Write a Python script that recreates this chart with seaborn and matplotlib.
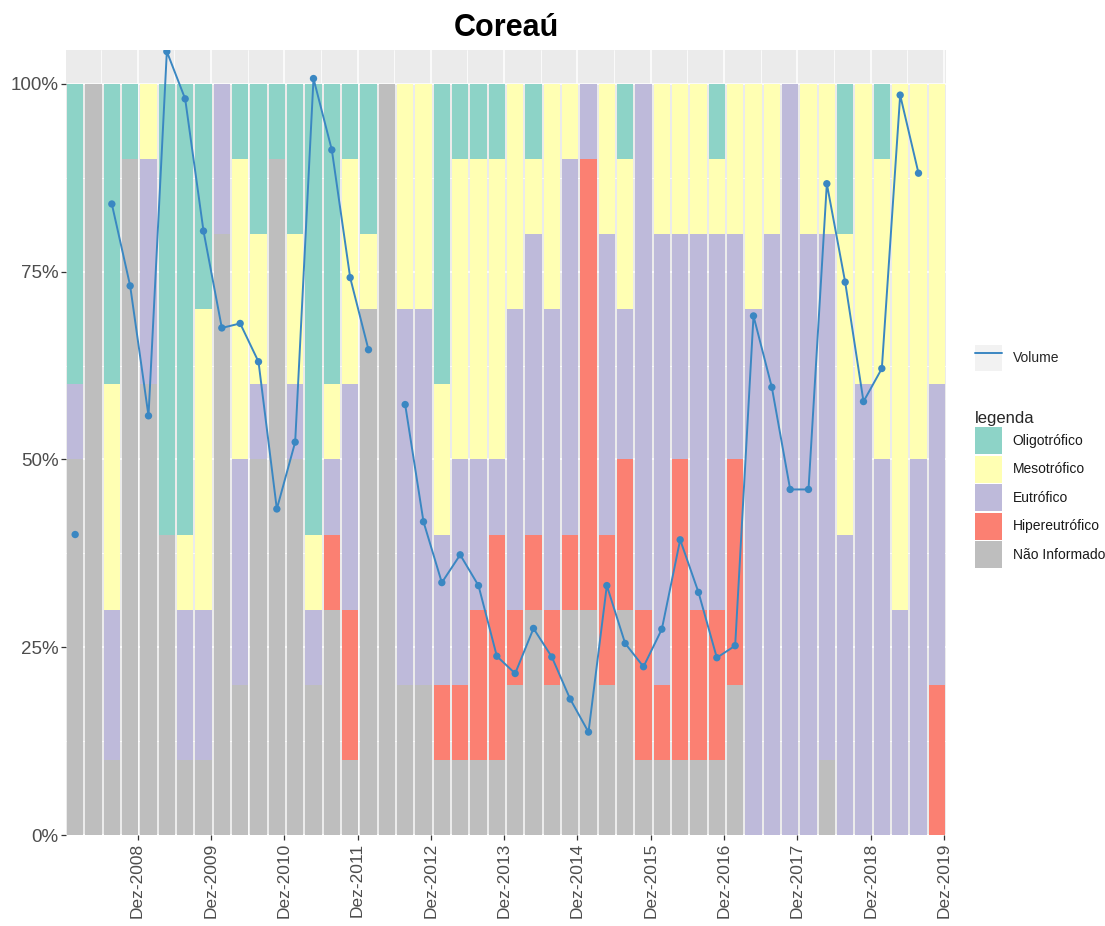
import numpy as np
import pandas as pd
import matplotlib
matplotlib.use("Agg")
import matplotlib.pyplot as plt
import seaborn as sns
from matplotlib.patches import Patch
from matplotlib.lines import Line2D
from matplotlib.legend_handler import HandlerTuple

# ---------------- data ----------------
classes = ["Oligotrófico", "Mesotrófico", "Eutrófico", "Hipereutrófico", "Não Informado"]
colors = ["#8DD3C7", "#FFFFB3", "#BEBADA", "#FB8072", "#BEBEBE"]

oligo = [0.4, 0.0, 0.4, 0.1, 0.0, 0.6, 0.6, 0.3, 0.0, 0.1, 0.2, 0.1, 0.2, 0.6, 0.4, 0.1,
         0.2, 0.0, 0.0, 0.0, 0.4, 0.1, 0.1, 0.1, 0.0, 0.1, 0.0, 0.0, 0.0, 0.0, 0.1, 0.0,
         0.0, 0.0, 0.0, 0.1, 0.0, 0.0, 0.0, 0.0, 0.0, 0.0, 0.2, 0.0, 0.1, 0.0, 0.0, 0.0]
meso = [0.0, 0.0, 0.3, 0.0, 0.1, 0.0, 0.1, 0.4, 0.0, 0.4, 0.2, 0.0, 0.2, 0.1, 0.1, 0.3,
        0.1, 0.0, 0.3, 0.3, 0.2, 0.4, 0.4, 0.4, 0.3, 0.1, 0.3, 0.1, 0.0, 0.2, 0.2, 0.0,
        0.2, 0.2, 0.2, 0.1, 0.2, 0.3, 0.2, 0.0, 0.2, 0.2, 0.4, 0.4, 0.4, 0.7, 0.5, 0.4]
eutro = [0.1, 0.0, 0.2, 0.0, 0.3, 0.0, 0.2, 0.2, 0.2, 0.3, 0.1, 0.0, 0.1, 0.1, 0.1, 0.3,
         0.0, 0.0, 0.5, 0.5, 0.2, 0.3, 0.2, 0.1, 0.4, 0.4, 0.4, 0.5, 0.1, 0.4, 0.2, 0.7,
         0.6, 0.3, 0.5, 0.5, 0.3, 0.7, 0.8, 1.0, 0.8, 0.7, 0.4, 0.6, 0.5, 0.3, 0.5, 0.4]
hiper = [0.0, 0.0, 0.0, 0.0, 0.0, 0.0, 0.0, 0.0, 0.0, 0.0, 0.0, 0.0, 0.0, 0.0, 0.1, 0.2,
         0.0, 0.0, 0.0, 0.0, 0.1, 0.1, 0.2, 0.3, 0.1, 0.1, 0.1, 0.1, 0.6, 0.2, 0.2, 0.2,
         0.1, 0.4, 0.2, 0.2, 0.3, 0.0, 0.0, 0.0, 0.0, 0.0, 0.0, 0.0, 0.0, 0.0, 0.0, 0.2]
nao_info = [0.5, 1.0, 0.1, 0.9, 0.6, 0.4, 0.1, 0.1, 0.8, 0.2, 0.5, 0.9, 0.5, 0.2, 0.3, 0.1,
            0.7, 1.0, 0.2, 0.2, 0.1, 0.1, 0.1, 0.1, 0.2, 0.3, 0.2, 0.3, 0.3, 0.2, 0.3, 0.1,
            0.1, 0.1, 0.1, 0.1, 0.2, 0.0, 0.0, 0.0, 0.0, 0.1, 0.0, 0.0, 0.0, 0.0, 0.0, 0.0]

volume = [0.40, np.nan, 0.840, 0.731, 0.558, 1.043, 0.980, 0.804, 0.675, 0.681, 0.630, 0.434,
          0.523, 1.007, 0.912, 0.742, 0.646, np.nan, 0.573, 0.417, 0.336, 0.373, 0.332, 0.238,
          0.215, 0.275, 0.237, 0.181, 0.137, 0.332, 0.255, 0.224, 0.274, 0.393, 0.323, 0.236,
          0.252, 0.691, 0.596, 0.460, 0.460, 0.867, 0.736, 0.577, 0.621, 0.985, 0.881, np.nan]

tick_labels = ["Dez-2008", "Dez-2009", "Dez-2010", "Dez-2011", "Dez-2012", "Dez-2013",
               "Dez-2014", "Dez-2015", "Dez-2016", "Dez-2017", "Dez-2018", "Dez-2019"]

# ---------------- build frames ----------------
n = len(oligo)
pos = np.arange(n)
series = [oligo, meso, eutro, hiper, nao_info]
long = pd.concat([pd.DataFrame({"pos": pos, "classe": c, "valor": v})
                  for c, v in zip(classes, series)], ignore_index=True)

vol = pd.DataFrame({"pos": pos, "volume": volume})
vol["seg"] = vol["volume"].isna().cumsum()
vol = vol.dropna()

# ---------------- figure ----------------
sns.set_theme(style="darkgrid")
plt.rcParams["font.family"] = ["Liberation Sans", "DejaVu Sans"]

W, H = 1105, 926
fig = plt.figure(figsize=(W / 100, H / 100), dpi=100)
left, right, top, bottom = 66, 946, 50, 835
ax = fig.add_axes([left / W, 1 - bottom / H, (right - left) / W, (bottom - top) / H])
ax.set_facecolor("#EBEBEB")

sns.histplot(data=long, x="pos", weights="valor", hue="classe", hue_order=classes,
             palette=colors, multiple="stack", discrete=True, shrink=0.9,
             linewidth=0, alpha=1, legend=False, ax=ax, zorder=2)

line_col = "#3A87C2"
sns.lineplot(data=vol, x="pos", y="volume", units="seg", estimator=None,
             color=line_col, linewidth=1.4, legend=False, ax=ax, zorder=3)
sns.scatterplot(data=vol, x="pos", y="volume", color=line_col, s=28,
                edgecolor="none", legend=False, ax=ax, zorder=4)

ax.set_xlim(-0.5, n - 0.5)
ax.set_ylim(0, 1.045)

xt = [3.4 + 4 * k for k in range(len(tick_labels))]
ax.set_xticks(xt)
ax.set_xticklabels(tick_labels, rotation=90, fontsize=12.5, color="#4D4D4D")
ax.set_xticks([x - 2 for x in xt], minor=True)
ax.set_yticks([0, 0.25, 0.5, 0.75, 1.0])
ax.set_yticklabels(["0%", "25%", "50%", "75%", "100%"], fontsize=13.5, color="#4D4D4D")
ax.set_yticks([0.125, 0.375, 0.625, 0.875], minor=True)

ax.grid(which="major", color="white", linewidth=1.1)
ax.grid(which="minor", color="white", linewidth=0.55)
ax.set_axisbelow(True)
ax.tick_params(axis="both", which="major", length=3.5, width=0.9, color="#333333",
               pad=2, bottom=True, left=True)
ax.tick_params(axis="both", which="minor", length=0)
ax.set_xlabel("")
ax.set_ylabel("")
for s in ax.spines.values():
    s.set_visible(False)

fig.text((left + right) / 2 / W, 1 - 28 / H, "Coreaú", ha="center", va="center",
         fontsize=22, fontweight="bold", color="black")

# ---------------- legends ----------------
vol_handle = (Patch(facecolor="#F2F2F2", edgecolor="none"),
              Line2D([], [], color=line_col, linewidth=1.4))
fig.legend([vol_handle], ["Volume"], loc="center left",
           bbox_to_anchor=(962 / W, 1 - 358 / H), frameon=False, fontsize=10,
           handlelength=2.0, handleheight=2.6, handletextpad=0.75,
           handler_map={tuple: HandlerTuple(ndivide=1, pad=0)})

patches = [Patch(facecolor=c, edgecolor="none") for c in colors]
leg2 = fig.legend(patches, classes, loc="upper left",
                  bbox_to_anchor=(962 / W, 1 - 398 / H), frameon=False, fontsize=10,
                  title="legenda", title_fontsize=12, alignment="left",
                  handlelength=2.0, handleheight=2.6, handletextpad=0.75,
                  labelspacing=0.12)
for t in leg2.get_texts():
    t.set_color("#1A1A1A")

fig.savefig("out.png", dpi=100)
